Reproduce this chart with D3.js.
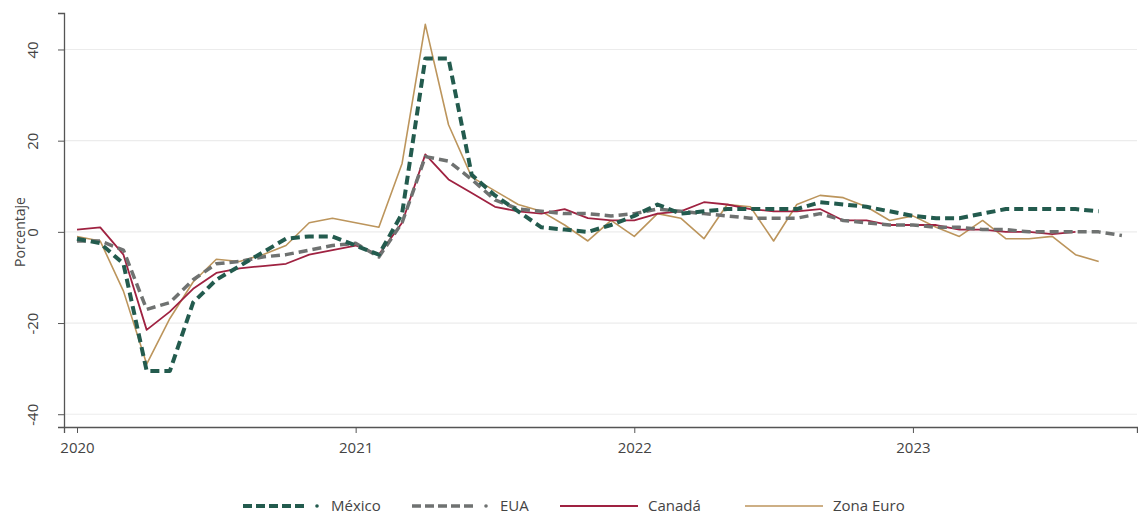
<!DOCTYPE html>
<html><head><meta charset="utf-8">
<script src="https://cdn.jsdelivr.net/npm/d3@7"></script>
<style>body{margin:0;background:#fff;} text{font-family:"Open Sans","Noto Sans",sans-serif;fill:#444;}</style>
</head><body><svg id="c" width="1138" height="517"></svg>
<script>
const years = ["2020","2021","2022","2023"];
const yTicks = [-40,-20,0,20,40];
const mexico = [-1.5,-2.5,-7,-30.5,-30.5,-15.5,-10.5,-7.5,-4.5,-1.5,-1,-1,-3,-5,4,38,38,12.5,8,4.5,1,0.5,0,1.5,3.5,6,4,4.5,5,5,5,5,6.5,6,5.5,4.5,3.5,3,3,4,5,5,5,5,4.5];
const eua = [-2,-2,-4,-17,-15.5,-10.5,-7,-6.5,-5.5,-5,-4,-3,-2.5,-5.5,2,16.5,15.5,11.5,7,5,4.5,4,4,3.5,4,5,4.5,4,3.5,3,3,3,4,2.5,2,1.5,1.5,1,1,0.5,0.5,0,0,0,0,-0.8];
const canada = [0.5,1,-5,-21.5,-17.5,-12.5,-9,-8,-7.5,-7,-5,-4,-3,-5,2,17,11.5,8.5,5.5,4.5,4,5,3,2.5,2.5,4,4.5,6.5,6,5,4.5,4.5,5,2.5,2.5,1.5,1.5,1.5,0.5,0.5,0,0,-0.5,0];
const zonaEuro = [-1,-2,-13,-29,-19,-11,-6,-6.5,-5,-3,2,3,2,1,15,45.5,23.5,12,9,6,4.5,1.5,-2,2.5,-1,4,3,-1.5,6,5.5,-2,6,8,7.5,5.5,2.5,3.5,1,-1,2.5,-1.5,-1.5,-1,-5,-6.5];
const seriesNames = ["México","EUA","Canadá","Zona Euro"];

const svg = d3.select("#c");
const x = d3.scaleLinear().domain([-0.56, 45.65]).range([64, 1137]);
const y = d3.scaleLinear().domain([-42.8, 48]).range([427, 13]);

svg.append("g").selectAll("line").data(yTicks).join("line")
  .attr("x1",65).attr("x2",1137).attr("y1",d=>y(d)).attr("y2",d=>y(d))
  .attr("stroke","#ececec").attr("stroke-width",1.2);

const ya = svg.append("g").attr("transform","translate(64,0)")
  .call(d3.axisLeft(y).tickValues(yTicks).tickSize(6).tickFormat(d=>String(d)));
ya.select(".domain").attr("stroke","#555").attr("stroke-width",1.3);
ya.selectAll(".tick line").attr("stroke","#555");
ya.selectAll(".tick text").attr("x",0).attr("y",0).attr("dy","0.35em")
  .attr("text-anchor","middle").attr("transform","translate(-31,0) rotate(-90)")
  .style("font-size","15px").attr("fill","#444");

const xa = svg.append("g").attr("transform","translate(0,427)")
  .call(d3.axisBottom(x).tickValues([0,12,24,36]).tickSize(6).tickFormat((d,i)=>years[i]));
xa.select(".domain").attr("stroke","#555").attr("stroke-width",1.3);
xa.selectAll(".tick line").attr("stroke","#555");
xa.selectAll(".tick text").attr("y",15).style("font-size","15px").attr("fill","#444");
svg.selectAll(".tick text").style("font-family","'Open Sans','Noto Sans',sans-serif");

svg.append("text").attr("transform","translate(20,232) rotate(-90)").attr("text-anchor","middle")
  .attr("dy","0.35em").style("font-size","14px").text("Porcentaje");

const line = d3.line().x((d,i)=>x(i)).y(d=>y(d));
const styles = [
  {data:mexico,color:"#235B4E",w:4,dash:"9,5"},
  {data:eua,color:"#6F7271",w:3.5,dash:"9,5"},
  {data:canada,color:"#9F2241",w:1.8,dash:null},
  {data:zonaEuro,color:"#BC955C",w:1.6,dash:null}
];
[3,2,1,0].forEach(k=>{
  const s=styles[k];
  svg.append("path").datum(s.data).attr("d",line).attr("fill","none")
    .attr("stroke",s.color).attr("stroke-width",s.w).attr("stroke-linejoin","round")
    .attr("stroke-dasharray",s.dash);
});

const lgX = [243,412,560,745];
seriesNames.forEach((n,k)=>{
  const s=styles[k], g=svg.append("g").attr("transform",`translate(${lgX[k]},506)`);
  if(s.dash){
    g.append("line").attr("x1",0).attr("x2",64).attr("y1",0).attr("y2",0)
      .attr("stroke",s.color).attr("stroke-width",s.w).attr("stroke-dasharray","9,4");
    g.append("circle").attr("cx",74).attr("cy",0).attr("r",1.8).attr("fill",s.color);
  } else {
    g.append("line").attr("x1",0).attr("x2",78).attr("y1",0).attr("y2",0)
      .attr("stroke",s.color).attr("stroke-width",s.w);
  }
  g.append("text").attr("x",88).attr("y",0).attr("dy","0.35em").style("font-size","15px").text(n);
});
</script></body></html>
